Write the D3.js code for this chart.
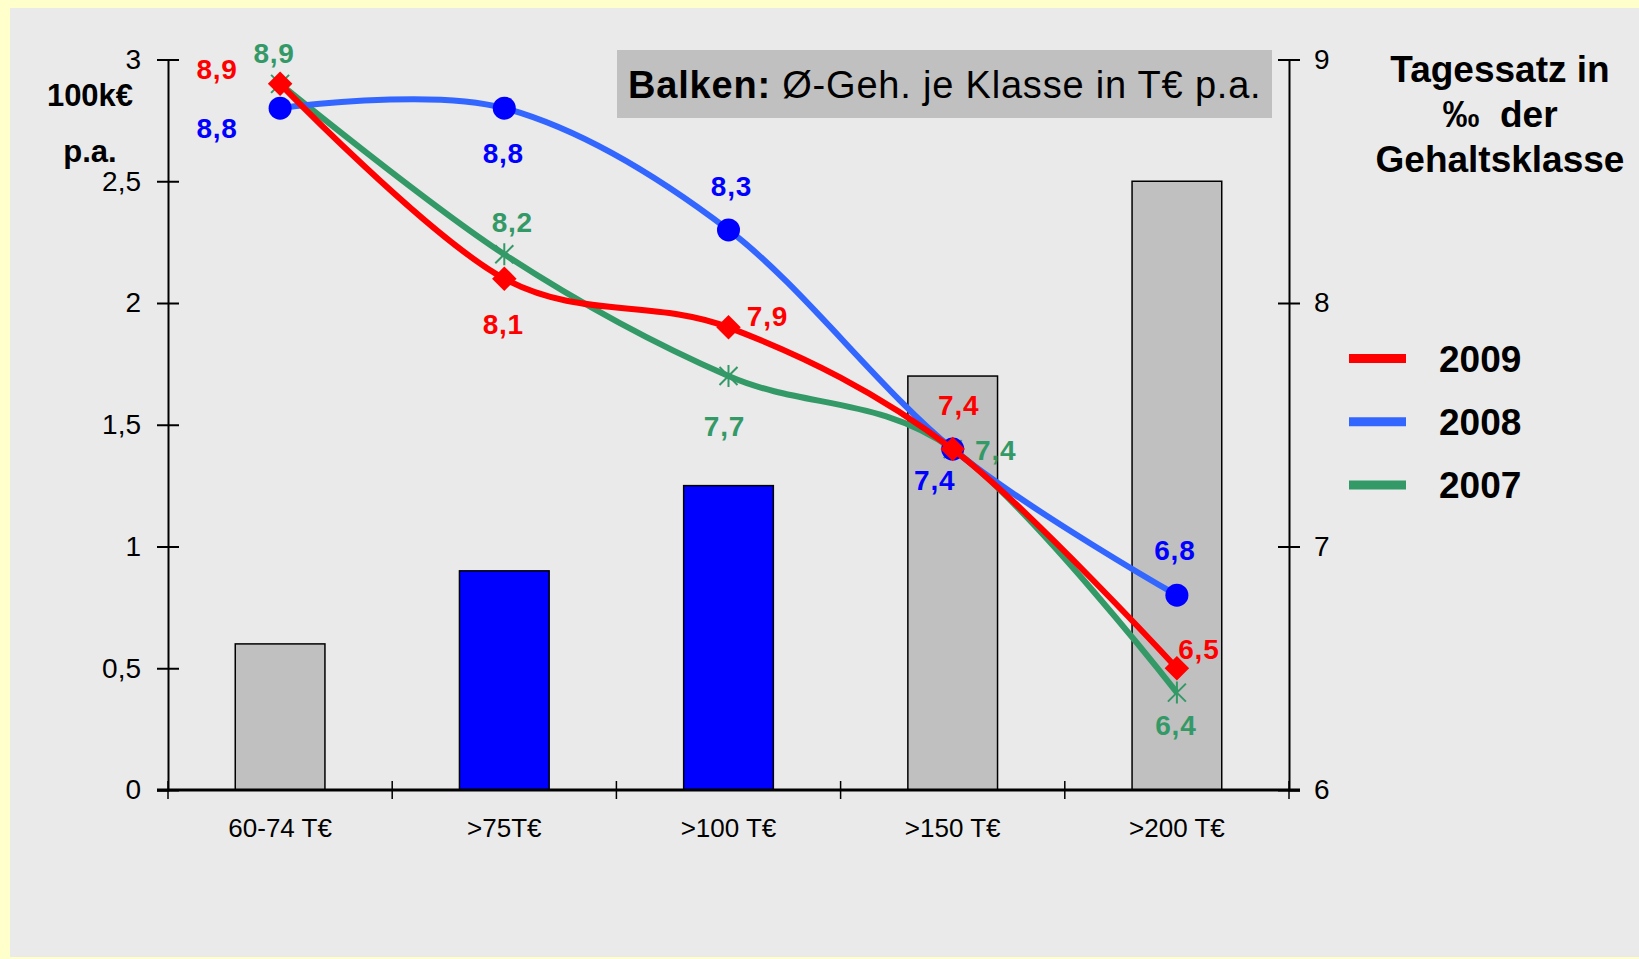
<!DOCTYPE html>
<html>
<head>
  <meta charset="utf-8">
  <title>Tagessatz je Gehaltsklasse</title>
  <script src="https://d3js.org/d3.v7.min.js"></script>
  <style>
    body { margin: 0; background: #ffffcc; }
    text { font-family: "Liberation Sans", Arial, sans-serif; }
  </style>
</head>
<body>
<script>
// data
var categories = ["60-74 T€", ">75T€", ">100 T€", ">150 T€", ">200 T€"];
var salaryBars = [0.6, 0.9, 1.25, 1.7, 2.5];          // 100k€ p.a.
var years = ["2009", "2008", "2007"];
var rate2009 = [8.9, 8.1, 7.9, 7.4, 6.5];             // Tagessatz in ‰
var rate2008 = [8.8, 8.8, 8.3, 7.4, 6.8];
var rate2007 = [8.9, 8.2, 7.7, 7.4, 6.4];
var leftTicks = [0, 0.5, 1, 1.5, 2, 2.5, 3];
var rightTicks = [6, 7, 8, 9];

// styles / layout
var barFill = ["#c0c0c0", "#0000ff", "#0000ff", "#c0c0c0", "#c0c0c0"];
var lineColor = { "2009": "#ff0000", "2008": "#3366ff", "2007": "#339966" };
var labelColor = { "2009": "#ff0000", "2008": "#0000ff", "2007": "#339966" };
// label offsets (dx, dy) from each point
var labelOff = {
  "2009": [[-63, -15], [-1, 45], [39, -11], [6, -44], [22, -19]],
  "2008": [[-63, 20], [-1, 45], [3, -44], [-18, 31], [-2, -45]],
  "2007": [[-6, -31], [8, -32], [-4, 50], [43, 1], [-1, 32]]
};

var W = 1639, H = 959;
var x0 = 168, x1 = 1289, yTop = 59.5, yBase = 790;

var svg = d3.select("body").append("svg").attr("width", W).attr("height", H);

svg.append("rect").attr("x", 0).attr("y", 0).attr("width", W).attr("height", H).attr("fill", "#ffffcc");
svg.append("rect").attr("x", 10).attr("y", 8).attr("width", W - 10).attr("height", 949).attr("fill", "#eaeaea");

var x = d3.scaleBand().domain(categories).range([x0, x1]).paddingInner(0.6).paddingOuter(0.3);
var yL = d3.scaleLinear().domain([0, 3]).range([yBase, yTop]);
var yR = d3.scaleLinear().domain([6, 9]).range([yBase, yTop]);
var fmt = function(d) { return String(d).replace(".", ","); };
var cx = function(i) { return x(categories[i]) + x.bandwidth() / 2; };

// bars
svg.selectAll("rect.bar")
  .data(salaryBars)
  .enter().append("rect")
  .attr("class", "bar")
  .attr("x", function(d, i) { return x(categories[i]); })
  .attr("y", function(d) { return yL(d); })
  .attr("width", x.bandwidth())
  .attr("height", function(d) { return yBase - yL(d); })
  .attr("fill", function(d, i) { return barFill[i]; })
  .attr("stroke", "#000")
  .attr("stroke-width", 1.5);

// left axis
var gL = svg.append("g").attr("transform", "translate(" + x0 + ",0)")
  .call(d3.axisLeft(yL).tickValues(leftTicks).tickFormat(fmt).tickSize(11).tickPadding(16));
gL.select(".domain").attr("stroke-width", 2);
gL.selectAll(".tick line").attr("x1", 11).attr("stroke-width", 2);
gL.selectAll(".tick text").attr("font-size", 28).attr("font-family", "Liberation Sans, Arial, sans-serif").attr("fill", "#000");

// right axis
var gR = svg.append("g").attr("transform", "translate(" + x1 + ",0)")
  .call(d3.axisRight(yR).tickValues(rightTicks).tickFormat(fmt).tickSize(11).tickPadding(14));
gR.select(".domain").attr("stroke-width", 2);
gR.selectAll(".tick line").attr("x1", -11).attr("stroke-width", 2);
gR.selectAll(".tick text").attr("font-size", 28).attr("font-family", "Liberation Sans, Arial, sans-serif").attr("fill", "#000");

// bottom axis
var bounds = d3.range(categories.length + 1).map(function(i) { return x0 + i * x.step(); });
svg.append("line").attr("x1", 157).attr("x2", 1300).attr("y1", yBase).attr("y2", yBase)
  .attr("stroke", "#000").attr("stroke-width", 3);
svg.selectAll("line.xtick").data(bounds).enter().append("line")
  .attr("x1", function(d) { return d; }).attr("x2", function(d) { return d; })
  .attr("y1", yBase - 9).attr("y2", yBase + 9)
  .attr("stroke", "#000").attr("stroke-width", 1.5);
svg.selectAll("text.cat").data(categories).enter().append("text")
  .attr("x", function(d, i) { return cx(i); })
  .attr("y", 837)
  .attr("text-anchor", "middle")
  .attr("font-size", 26)
  .text(function(d) { return d; });

// left axis title
svg.append("text").attr("x", 90).attr("y", 106).attr("text-anchor", "middle")
  .attr("font-size", 31).attr("font-weight", "bold").text("100k€");
svg.append("text").attr("x", 90).attr("y", 162).attr("text-anchor", "middle")
  .attr("font-size", 31).attr("font-weight", "bold").text("p.a.");

// note box
svg.append("rect").attr("x", 617).attr("y", 50).attr("width", 655).attr("height", 68).attr("fill", "#c0c0c0");
var note = svg.append("text").attr("x", 628).attr("y", 98).attr("font-size", 38).attr("letter-spacing", 0.8);
note.append("tspan").attr("font-weight", "bold").text("Balken:");
note.append("tspan").text(" Ø-Geh. je Klasse in T€ p.a.");

// right title
var title = ["Tagessatz in", "‰  der", "Gehaltsklasse"];
svg.selectAll("text.rtitle").data(title).enter().append("text")
  .attr("x", 1500)
  .attr("y", function(d, i) { return 82 + i * 45; })
  .attr("text-anchor", "middle")
  .attr("font-size", 37)
  .attr("font-weight", "bold")
  .style("white-space", "pre")
  .text(function(d) { return d; });

// lines
var series = { "2009": rate2009, "2008": rate2008, "2007": rate2007 };
var line = d3.line()
  .x(function(d, i) { return cx(i); })
  .y(function(d) { return yR(d); })
  .curve(d3.curveCardinal.tension(0));

["2007", "2008", "2009"].forEach(function(yr) {
  var vals = series[yr];
  var g = svg.append("g");
  g.append("path").datum(vals)
    .attr("d", line)
    .attr("fill", "none")
    .attr("stroke", lineColor[yr])
    .attr("stroke-width", 6)
    .attr("stroke-linejoin", "round");

  var pts = g.selectAll("g.pt").data(vals).enter().append("g")
    .attr("transform", function(d, i) { return "translate(" + cx(i) + "," + yR(d) + ")"; });
  if (yr === "2009") {
    pts.append("path").attr("d", d3.symbol(d3.symbolSquare, 300)).attr("transform", "rotate(45)").attr("fill", "#ff0000");
  } else if (yr === "2008") {
    pts.append("circle").attr("r", 11.5).attr("fill", "#0000ff");
  } else {
    pts.append("path").attr("d", "M-9,-9L9,9M-9,9L9,-9M0,-11L0,11")
      .attr("stroke", "#339966").attr("stroke-width", 2).attr("fill", "none");
  }
});

// value labels
years.forEach(function(yr) {
  svg.selectAll("text.v" + yr).data(series[yr]).enter().append("text")
    .attr("x", function(d, i) { return cx(i) + labelOff[yr][i][0]; })
    .attr("y", function(d, i) { return yR(d) + labelOff[yr][i][1]; })
    .attr("dy", "0.36em")
    .attr("text-anchor", "middle")
    .attr("font-size", 28)
    .attr("font-weight", "bold")
    .attr("letter-spacing", 0.8)
    .attr("fill", labelColor[yr])
    .text(function(d) { return fmt(d); });
});

// legend
years.forEach(function(yr, i) {
  var ly = 358.5 + i * 63.3;
  svg.append("line").attr("x1", 1349).attr("x2", 1406).attr("y1", ly).attr("y2", ly)
    .attr("stroke", lineColor[yr]).attr("stroke-width", 9);
  svg.append("text").attr("x", 1439).attr("y", ly + 13)
    .attr("font-size", 37).attr("font-weight", "bold").text(yr);
});
</script>
</body>
</html>
